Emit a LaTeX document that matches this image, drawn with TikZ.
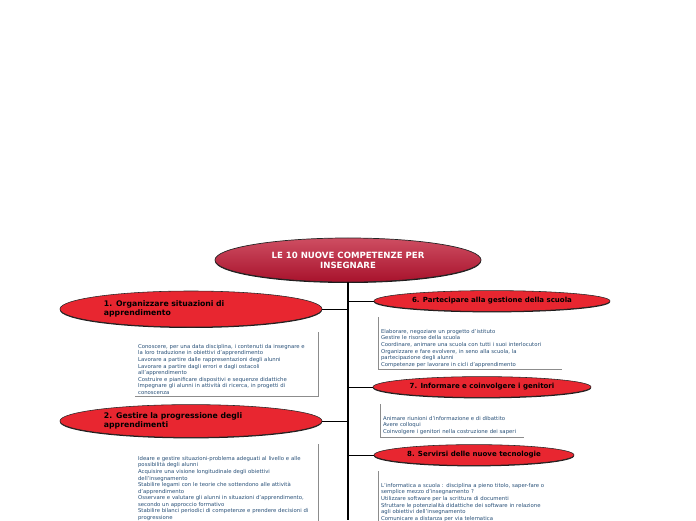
\documentclass[tikz,border=0pt]{standalone}
\usepackage{fontspec}
\setmainfont{DejaVu Sans}
\usetikzlibrary{positioning,shapes.geometric,shadows}

\definecolor{rootdark}{RGB}{168,18,44}
\definecolor{rootlight}{RGB}{206,78,98}
\definecolor{topicred}{RGB}{232,38,48}
\definecolor{notetext}{RGB}{38,78,118}

\begin{document}
\begin{tikzpicture}[x=0.025cm, y=-0.025cm,
  root/.style={ellipse, draw=black!85, line width=0.5pt, top color=rootlight, bottom color=rootdark,
    minimum width=6.65cm, minimum height=1.1cm, inner sep=0pt, align=center, text=white,
    font=\fontsize{6.1}{7.2}\selectfont\bfseries,
    drop shadow={shadow xshift=0pt, shadow yshift=-0.7pt, fill=black, opacity=0.9}},
  topic/.style={ellipse, draw=black!85, line width=0.4pt, fill=topicred, inner sep=0pt,
    font=\fontsize{5}{6.4}\selectfont\bfseries,
    drop shadow={shadow xshift=0pt, shadow yshift=-0.7pt, fill=black, opacity=0.9}},
  note/.style={anchor=north west, align=left, inner xsep=2pt, inner ysep=1.5pt, text=notetext,
    font=\fontsize{3.8}{4.65}\selectfont},
  bracket/.style={draw=black!45, line width=0.4pt},
  branch/.style={draw=black, line width=0.7pt},
  trunk/.style={draw=black, line width=1.6pt}]
\useasboundingbox (0,0) rectangle (696,520);

% Central idea
\node[root] (root) at (348,260) {LE 10 NUOVE COMPETENZE PER\\INSEGNARE};
\coordinate (trunkend) at (348,520);
\draw[trunk] (root.south) -- (trunkend);

% Left side
\node[topic, minimum width=6.55cm, minimum height=0.9cm, text width=4.35cm, align=left,
  font=\fontsize{5.5}{6.6}\selectfont\bfseries] (comp1) at (191,309)
  {1. Organizzare situazioni di\\apprendimento};
\node[note, text width=4.42cm] (note1) at (135,342)
  {Conoscere, per una data disciplina, i contenuti da insegnare e\\
   la loro traduzione in obiettivi d'apprendimento\\
   Lavorare a partire dalle rappresentazioni degli alunni\\
   Lavorare a partire dagli errori e dagli ostacoli\\
   all'apprendimento\\
   Costruire e pianificare dispositivi e sequenze didattiche\\
   Impegnare gli alunni in attività di ricerca, in progetti di\\
   conoscenza};

\node[topic, minimum width=6.55cm, minimum height=0.82cm, text width=4.35cm, align=left,
  font=\fontsize{5.5}{6.6}\selectfont\bfseries] (comp2) at (191,421)
  {2. Gestire la progressione degli\\apprendimenti};
\node[note, text width=4.42cm] (note2) at (135,454)
  {Ideare e gestire situazioni-problema adeguati al livello e alle\\
   possibilità degli alunni\\
   Acquisire una visione longitudinale degli obiettivi\\
   dell'insegnamento\\
   Stabilire legami con le teorie che sottendono alle attività\\
   d'apprendimento\\
   Osservare e valutare gli alunni in situazioni d'apprendimento,\\
   secondo un approccio formativo\\
   Stabilire bilanci periodici di competenze e prendere decisioni di\\
   progressione};

% Right side
\node[topic, minimum width=5.9cm, minimum height=0.52cm] (comp6) at (492,301)
  {6. Partecipare alla gestione della scuola};
\node[note, text width=4.45cm] (note6) at (378,327)
  {Elaborare, negoziare un progetto d'istituto\\
   Gestire le risorse della scuola\\
   Coordinare, animare una scuola con tutti i suoi interlocutori\\
   Organizzare e fare evolvere, in seno alla scuola, la\\
   partecipazione degli alunni\\
   Competenze per lavorare in cicli d'apprendimento};

\node[topic, minimum width=5.45cm, minimum height=0.52cm] (comp7) at (482,387)
  {7. Informare e coinvolgere i genitori};
\node[note, text width=3.45cm] (note7) at (380,414)
  {Animare riunioni d'informazione e di dibattito\\
   Avere colloqui\\
   Coinvolgere i genitori nella costruzione dei saperi};

\node[topic, minimum width=5cm, minimum height=0.52cm] (comp8) at (474,455)
  {8. Servirsi delle nuove tecnologie};
\node[note, text width=4.45cm] (note8) at (378,481)
  {L'informatica a scuola : disciplina a pieno titolo, saper-fare o\\
   semplice mezzo d'insegnamento ?\\
   Utilizzare software per la scrittura di documenti\\
   Sfruttare le potenzialità didattiche dei software in relazione\\
   agli obiettivi dell'insegnamento\\
   Comunicare a distanza per via telematica};

% Branches to the trunk
\draw[branch] (comp1.east) -- (comp1.east -| root.south);
\draw[branch] (comp2.east) -- (comp2.east -| root.south);
\draw[branch] (comp6.west) -- (comp6.west -| root.south);
\draw[branch] (comp7.west) -- (comp7.west -| root.south);
\draw[branch] (comp8.west) -- (comp8.west -| root.south);

% Note brackets
\draw[bracket] ([yshift=7pt]note1.north east) -- (note1.south east) -- (note1.south west);
\draw[bracket] ([yshift=7pt]note2.north east) -- (note2.south east) -- (note2.south west);
\draw[bracket] ([yshift=7pt]note6.north west) -- (note6.south west) -- (note6.south east);
\draw[bracket] ([yshift=7pt]note7.north west) -- (note7.south west) -- (note7.south east);
\draw[bracket] ([yshift=7pt]note8.north west) -- (note8.south west) -- (note8.south east);
\end{tikzpicture}
\end{document}
